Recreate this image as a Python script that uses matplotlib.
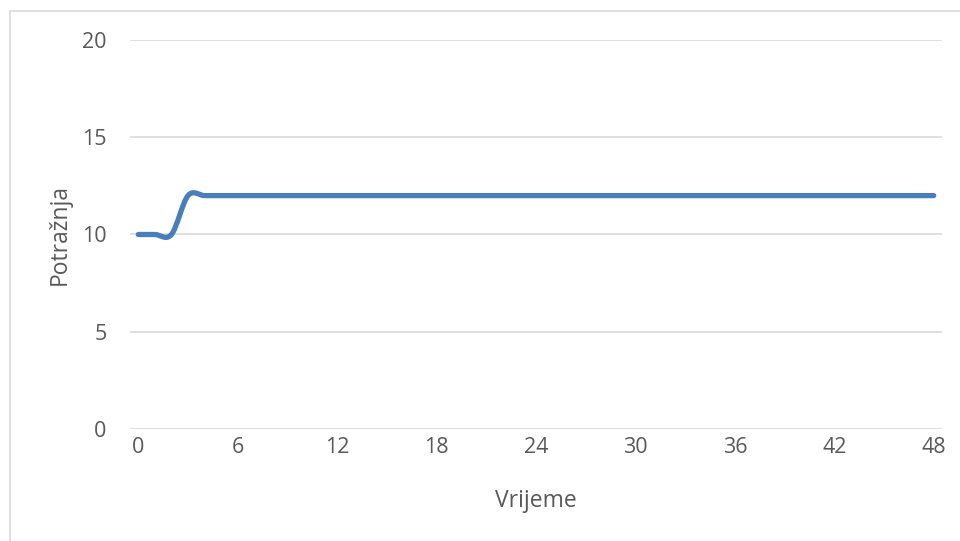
import matplotlib
matplotlib.use("Agg")
import matplotlib.pyplot as plt
from matplotlib.path import Path
from matplotlib.patches import PathPatch, Rectangle
import numpy as np

# data: demand per time step (0..48)
time_steps = list(range(49))
demand = [10, 10, 10] + [12] * 46
x_ticks = list(range(0, 49, 6))
y_ticks = [0, 5, 10, 15, 20]

LINE_COLOR = "#4A7EBB"
GRID_COLOR = "#D9D9D9"
TEXT_COLOR = "#595959"

plt.rcParams["font.family"] = ["Open Sans", "DejaVu Sans"]

fig = plt.figure(figsize=(9.6, 5.41), dpi=100)
ax = fig.add_axes([130 / 960, 1 - 429 / 541, (942 - 130) / 960, (429 - 40) / 541])

# chart border (Excel chart area, only left/top visible)
fig.patches.append(Rectangle((10 / 960, -0.1), 1.2, 1.1 - 11 / 541,
                             transform=fig.transFigure, fill=False,
                             edgecolor=GRID_COLOR, lw=1.2))

# smoothed line like Excel: cubic bezier through the points
x = np.array(time_steps, dtype=float)
y = np.array(demand, dtype=float)
verts = [(x[0], y[0])]
codes = [Path.MOVETO]
n = len(x)
for i in range(n - 1):
    p0 = np.array([x[max(i - 1, 0)], y[max(i - 1, 0)]])
    p1 = np.array([x[i], y[i]])
    p2 = np.array([x[i + 1], y[i + 1]])
    p3 = np.array([x[min(i + 2, n - 1)], y[min(i + 2, n - 1)]])
    c1 = p1 + (p2 - p0) / 6
    c2 = p2 - (p3 - p1) / 6
    verts += [tuple(c1), tuple(c2), tuple(p2)]
    codes += [Path.CURVE4] * 3
ax.add_patch(PathPatch(Path(verts, codes), fill=False, edgecolor=LINE_COLOR,
                       lw=3.8, capstyle="round", joinstyle="round", zorder=3))

ax.set_xlim(-0.5, 48.5)
ax.set_ylim(0, 20)
ax.set_xticks(x_ticks)
ax.set_yticks(y_ticks)
ax.grid(axis="y", color=GRID_COLOR, lw=1.2)
ax.set_axisbelow(True)
for s in ax.spines.values():
    s.set_visible(False)
ax.tick_params(axis="both", length=0, labelsize=15.5, labelcolor=TEXT_COLOR)
ax.tick_params(axis="y", pad=17)
ax.tick_params(axis="x", pad=6)

ax.set_xlabel("Vrijeme", fontsize=16.5, color=TEXT_COLOR, labelpad=22)
ax.set_ylabel("Potražnja", fontsize=16.5, color=TEXT_COLOR, labelpad=7)

plt.savefig("out.png", dpi=100)
plt.close()
